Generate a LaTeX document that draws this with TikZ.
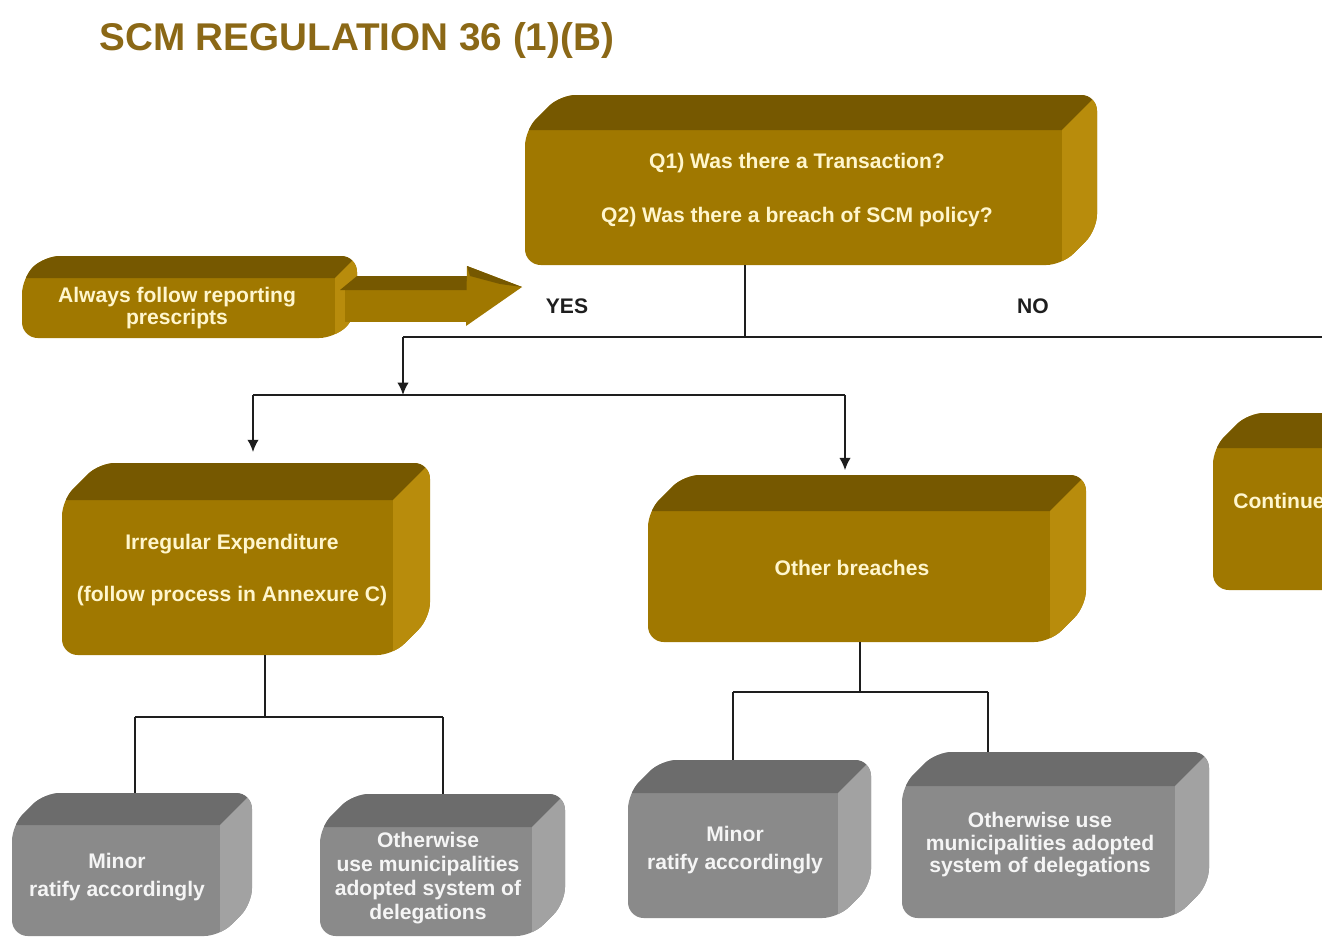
\documentclass[tikz,border=0pt]{standalone}
\usepackage{fontspec}
\setmainfont{Liberation Sans}
\usetikzlibrary{fit,arrows.meta}
\definecolor{goldfront}{RGB}{160,120,0}
\definecolor{goldtop}{RGB}{118,88,0}
\definecolor{goldside}{RGB}{184,140,12}
\definecolor{greyfront}{RGB}{138,138,138}
\definecolor{greytop}{RGB}{108,108,108}
\definecolor{greyside}{RGB}{162,162,162}
\definecolor{goldtext}{RGB}{255,246,205}
\definecolor{greytext}{RGB}{245,245,245}
\definecolor{titlecol}{RGB}{139,104,22}
\definecolor{linecol}{RGB}{30,30,30}
% #1 name, #2 x1, #3 y1 (front top), #4 x2 (front right), #5 y2 (bottom), #6 depth, #7 colour prefix
\newcommand\bevelbox[7]{%
  \begin{scope}
    \clip[rounded corners=9] (#2,#3) -- ({#2+#6},{#3-#6}) -- ({#4+#6},{#3-#6}) -- ({#4+#6},{#5-#6}) -- (#4,#5) -- (#2,#5) -- cycle;
    \fill[#7front] ({#2-5},{#3-#6-5}) rectangle ({#4+#6+5},{#5+5});
    \fill[#7top] (#2,#3) -- ({#2+#6},{#3-#6}) -- ({#4+#6},{#3-#6}) -- (#4,#3) -- cycle;
    \fill[#7side] (#4,#3) -- ({#4+#6},{#3-#6}) -- ({#4+#6},{#5-#6}) -- (#4,#5) -- cycle;
  \end{scope}
  \node[fit={(#2,{#3-#6}) ({#4+#6},#5)}, inner sep=0pt] (#1) {};
}
\tikzset{
  goldlbl/.style={text=goldtext, font=\fontsize{12}{14}\selectfont\bfseries, align=center, inner sep=0pt},
  greylbl/.style={text=greytext, font=\fontsize{12}{13.6}\selectfont\bfseries, align=center, inner sep=0pt},
  conn/.style={draw=linecol, line width=1.1pt},
  arr/.style={conn, -{Latex[length=7pt,width=6.5pt]}},
  yesno/.style={font=\fontsize{12}{14}\selectfont\bfseries, text=linecol, inner sep=0pt}
}
\begin{document}
\begin{tikzpicture}[x=0.02cm, y=-0.02cm]
\useasboundingbox (0,0) rectangle (1322,938);
\fill[white] (0,0) rectangle (1322,938);
\clip (0,0) rectangle (1322,938);

% title
\node[anchor=west, font=\fontsize{22}{24}\selectfont\bfseries, text=titlecol, inner sep=0pt] (title) at (99,40) {SCM REGULATION 36 (1)(B)};

% boxes
\bevelbox{q}{525}{130}{1062}{265}{35}{gold}
\bevelbox{rep}{22}{278}{335}{338}{22}{gold}
\bevelbox{irr}{62}{500}{393}{655}{37}{gold}
\bevelbox{oth}{648}{511}{1050}{642}{36}{gold}
\bevelbox{cont}{1213}{448}{1400}{590}{35}{gold}
\bevelbox{minl}{12}{825}{220}{936}{32}{grey}
\bevelbox{othl}{320}{827}{532}{936}{33}{grey}
\bevelbox{minr}{628}{793}{838}{918}{33}{grey}
\bevelbox{othr}{902}{786}{1175}{918}{34}{grey}

% 3D arrow of the reporting box
\fill[goldfront] (345,290) -- (472,290) -- (472,322) -- (345,322) -- cycle;
\fill[goldtop] (340,290) -- (357,276) -- (480,276) -- (472,290) -- cycle;
\fill[goldfront] (467,266) -- (522,287) -- (466,326) -- cycle;
\fill[goldtop] (467,266) -- (522,287) -- (500,284) -- (470,276) -- cycle;

% texts
\node[goldlbl] (qt) at (797,190) {Q1) Was there a Transaction?\\[17pt]Q2) Was there a breach of SCM policy?};
\node[goldlbl] (rept) at (177,308) {Always follow reporting\\[-2pt]prescripts};
\node[goldlbl] (irrt) at (232,570) {Irregular Expenditure\\[16pt](follow process in Annexure C)};
\node[goldlbl] (otht) at (852,568) {Other breaches};
\node[goldlbl, anchor=west] (contt) at (1233,501) {Continue};
\node[greylbl] (minlt) at (117,877) {Minor\\[2pt]ratify accordingly};
\node[greylbl] (othlt) at (428,878) {Otherwise\\use municipalities\\adopted system of\\delegations};
\node[greylbl] (minrt) at (735,850) {Minor\\[2pt]ratify accordingly};
\node[greylbl] (othrt) at (1040,845) {Otherwise use\\[-0.8pt]municipalities adopted\\[-0.8pt]system of delegations};
\node[yesno] (yes) at (567,306) {YES};
\node[yesno] (no) at (1033,306) {NO};

% connectors
\coordinate (j1) at (745,337);
\coordinate (jl) at (403,337);
\coordinate (jr) at (1322,337);
\coordinate (j2) at (403,395);
\coordinate (j2l) at (253,395);
\coordinate (j2r) at (845,395);
\draw[conn] (q.south -| j1) -- (j1);
\draw[conn] (jl) -- (jr);
\draw[arr] (jl) -- (j2);
\draw[conn] (j2l) -- (j2r);
\draw[arr, shorten >=6pt] (j2l) -- (j2l |- irr.north);
\draw[arr, shorten >=2.5pt] (j2r) -- (j2r |- oth.north);

\coordinate (j3) at (265,717);
\coordinate (j3l) at (135,717);
\coordinate (j3r) at (443,717);
\draw[conn] (irr.south -| j3) -- (j3);
\draw[conn] (j3l) -- (j3r);
\draw[conn] (j3l) -- (j3l |- minl.north);
\draw[conn] (j3r) -- (j3r |- othl.north);

\coordinate (j4) at (860,692);
\coordinate (j4l) at (733,692);
\coordinate (j4r) at (988,692);
\draw[conn] (oth.south -| j4) -- (j4);
\draw[conn] (j4l) -- (j4r);
\draw[conn] (j4l) -- (j4l |- minr.north);
\draw[conn] (j4r) -- (j4r |- othr.north);
\end{tikzpicture}
\end{document}
